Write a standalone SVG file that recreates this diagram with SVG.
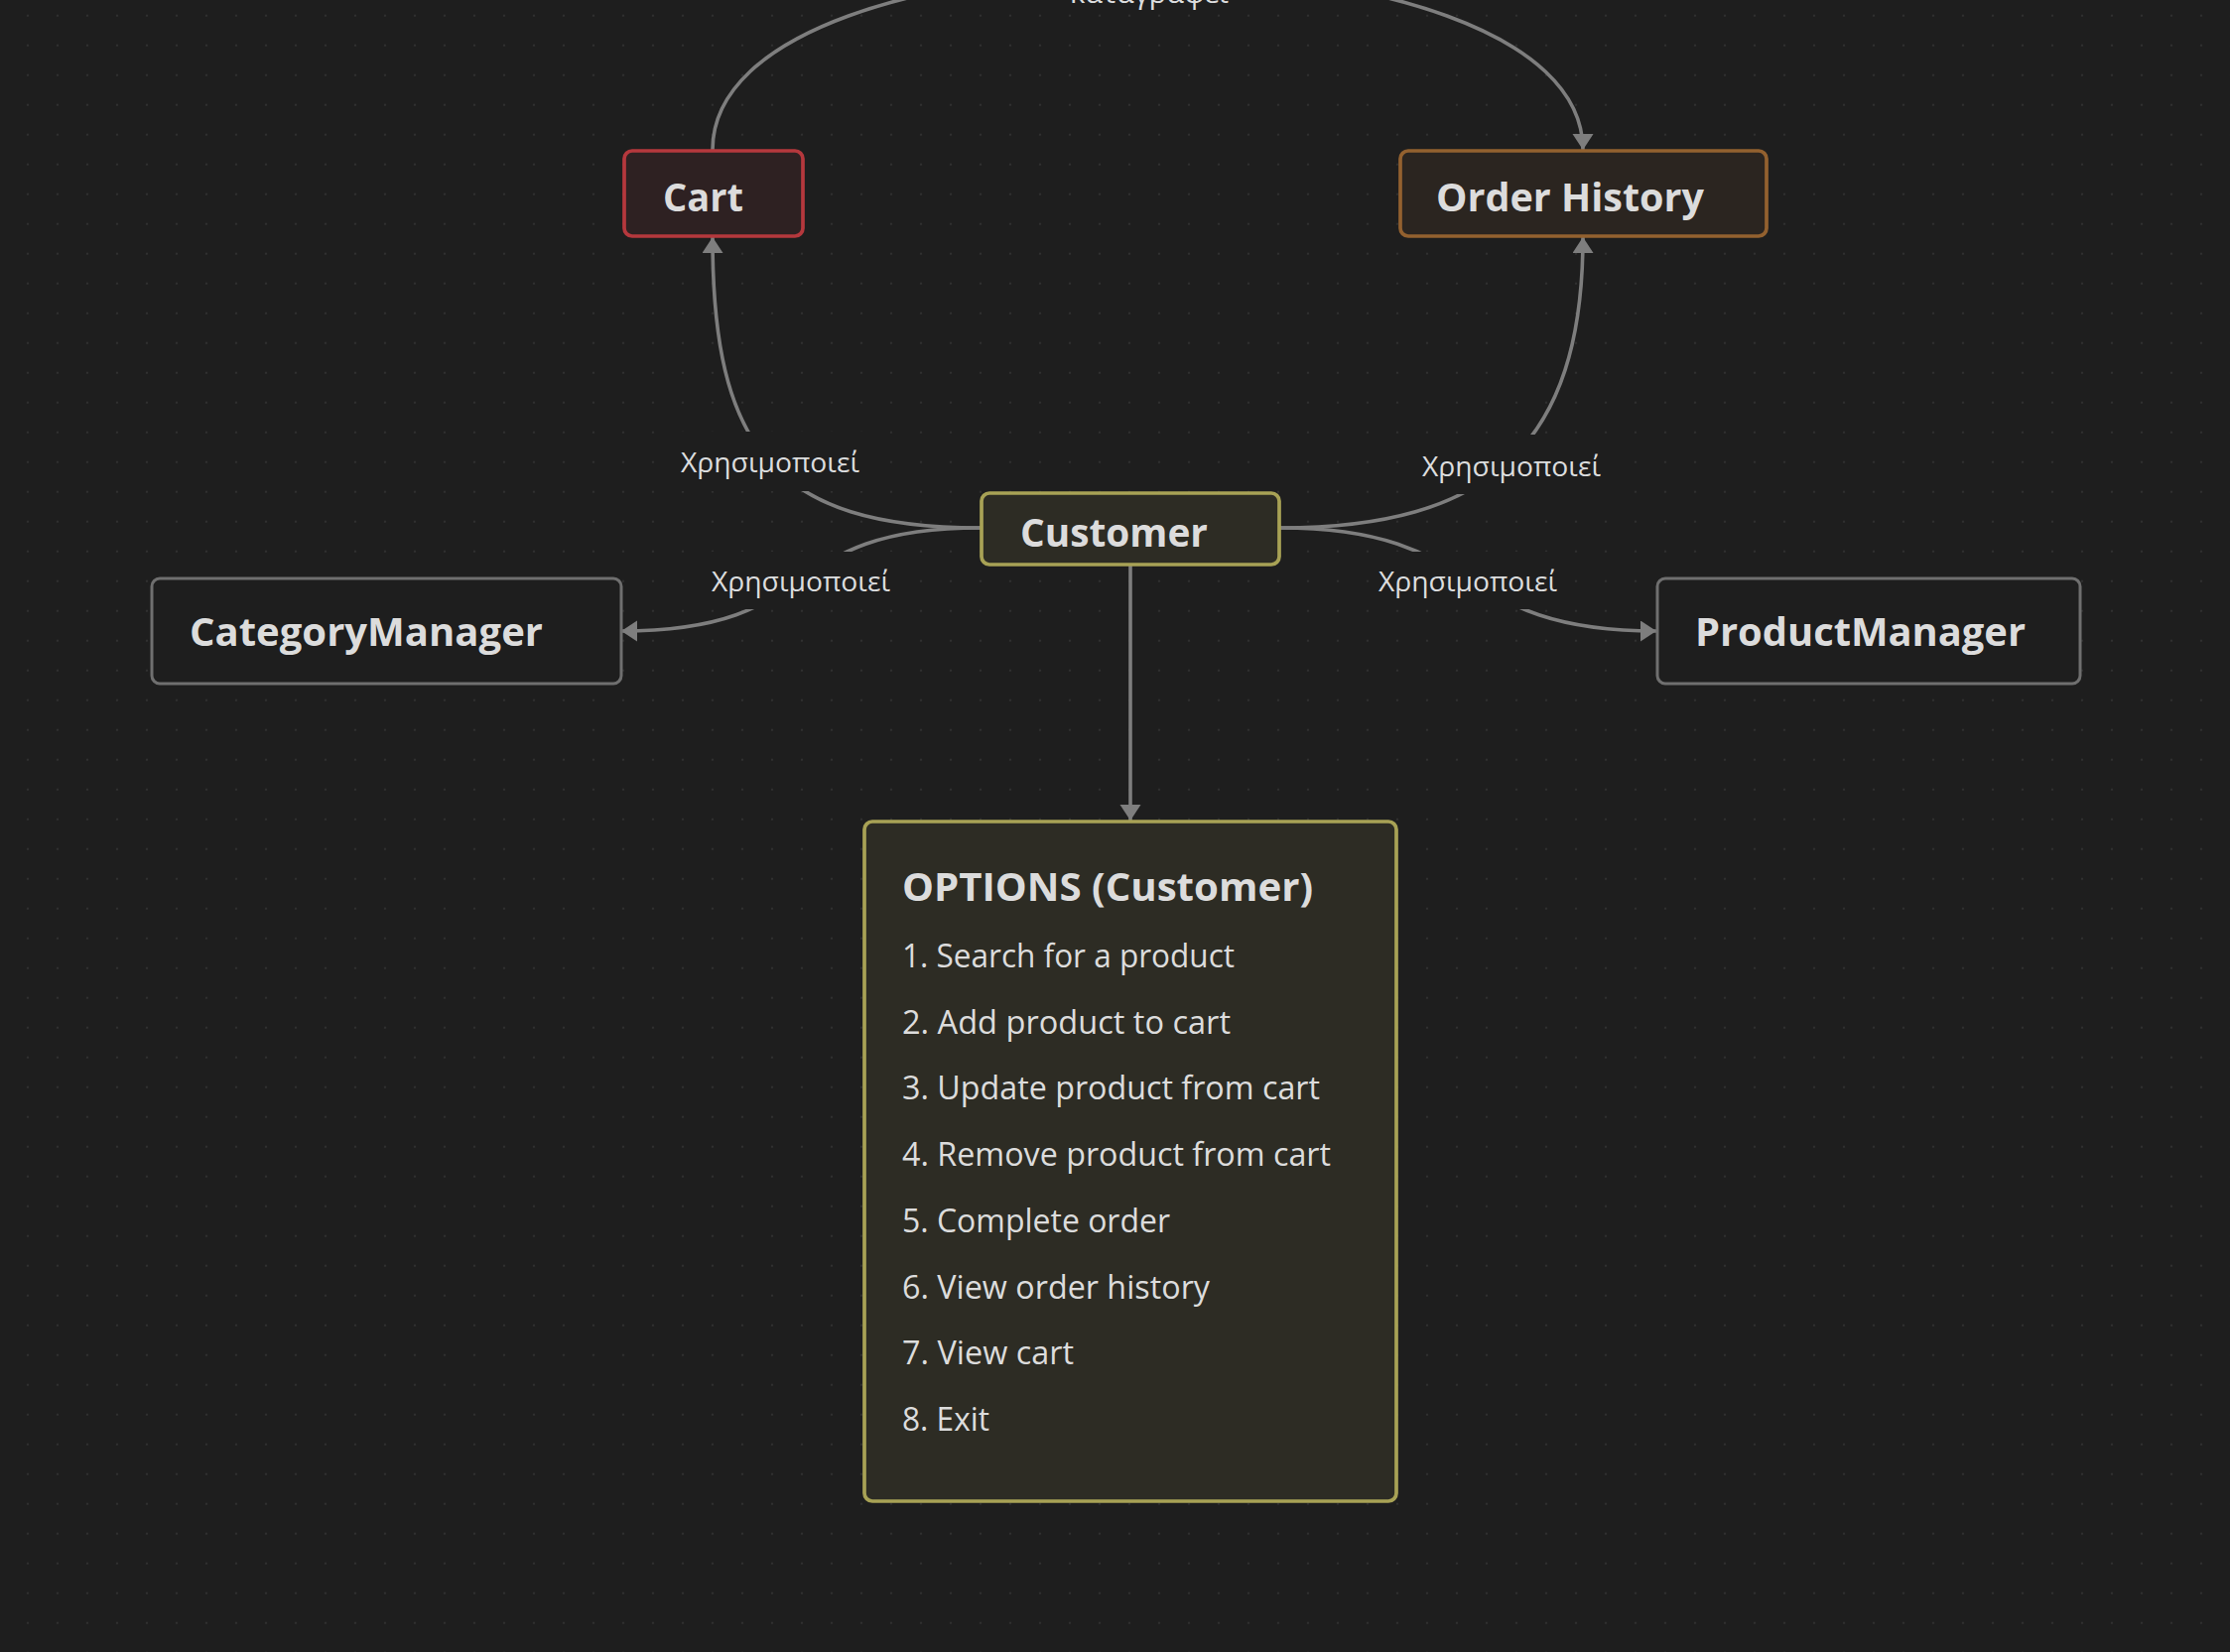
<svg xmlns="http://www.w3.org/2000/svg" width="2247" height="1665" viewBox="0 0 2247 1665">
  <defs>
    <pattern id="dots" patternUnits="userSpaceOnUse" x="13" y="0.7" width="30" height="30">
      <circle cx="15" cy="15" r="1.1" fill="#343434"/>
    </pattern>
    <marker id="arrow" markerUnits="userSpaceOnUse" markerWidth="18" markerHeight="22" refX="16" refY="10.5" orient="auto">
      <path d="M0,0 L16,10.5 L0,21 Z" fill="#7e7e7e"/>
    </marker>
    <style>
      .edge { fill: none; stroke: #7e7e7e; stroke-width: 3.6; }
      .lblbg { fill: #1e1e1e; }
      .lbl { font-family: "Open Sans", "Liberation Sans", sans-serif; font-size: 28px; fill: #dcddde; text-anchor: middle; }
      .ntext { font-family: "Open Sans", "Liberation Sans", sans-serif; font-size: 40px; font-weight: bold; fill: #dcdcdc; }
      .otitle { font-family: "Open Sans", "Liberation Sans", sans-serif; font-size: 40px; font-weight: bold; fill: #dcdcdc; }
      .oitem { font-family: "Open Sans", "Liberation Sans", sans-serif; font-size: 32px; font-weight: 500; fill: #dcdcdc; }
    </style>
  </defs>

  <rect x="0" y="0" width="2247" height="1665" fill="#1e1e1e"/>
  <rect x="0" y="0" width="2247" height="1665" fill="url(#dots)"/>

  <g id="connectors">
    <path class="edge" d="M718,151 C718,-89 1595,-89 1595,151" marker-end="url(#arrow)"/>
    <path class="edge" d="M988,532 C778,532 718,449 718,239" marker-end="url(#arrow)"/>
    <path class="edge" d="M1290,532 C1500,532 1595,449 1595,239" marker-end="url(#arrow)"/>
    <path class="edge" d="M988,532 C778,532 836,636 626,636" marker-end="url(#arrow)"/>
    <path class="edge" d="M1290,532 C1500,532 1459,636 1669,636" marker-end="url(#arrow)"/>
    <path class="edge" d="M1139,569 L1139,827" marker-end="url(#arrow)"/>

    <rect class="lblbg" x="676" y="435" width="198" height="60"/>
    <rect class="lblbg" x="1423" y="438" width="198" height="60"/>
    <rect class="lblbg" x="708" y="556" width="198" height="58"/>
    <rect class="lblbg" x="1380" y="556" width="198" height="58"/>

    <text class="lbl" x="1158" y="3" textLength="160" lengthAdjust="spacingAndGlyphs">καταγράφει</text>
    <text class="lbl" x="776" y="476" textLength="180" lengthAdjust="spacingAndGlyphs">Χρησιμοποιεί</text>
    <text class="lbl" x="1523" y="480" textLength="180" lengthAdjust="spacingAndGlyphs">Χρησιμοποιεί</text>
    <text class="lbl" x="807" y="596" textLength="180" lengthAdjust="spacingAndGlyphs">Χρησιμοποιεί</text>
    <text class="lbl" x="1479" y="596" textLength="180" lengthAdjust="spacingAndGlyphs">Χρησιμοποιεί</text>
  </g>

  <g id="cart">
    <rect x="629" y="152" width="180" height="86" rx="8" fill="#2e2122" stroke="#b5383d" stroke-width="3.7"/>
    <text class="ntext" x="668" y="213" textLength="81" lengthAdjust="spacingAndGlyphs">Cart</text>
  </g>

  <g id="order-history">
    <rect x="1411" y="152" width="369" height="86" rx="8" fill="#2b2520" stroke="#93612f" stroke-width="3.7"/>
    <text class="ntext" x="1447" y="213" textLength="270" lengthAdjust="spacingAndGlyphs">Order History</text>
  </g>

  <g id="customer">
    <rect x="989" y="497" width="300" height="72" rx="8" fill="#2d2c24" stroke="#a8a255" stroke-width="3.7"/>
    <text class="ntext" x="1028" y="551" textLength="189" lengthAdjust="spacingAndGlyphs">Customer</text>
  </g>

  <g id="category-manager">
    <rect x="153" y="583" width="473" height="106" rx="8" fill="#1e1e1e" stroke="#6f6f6f" stroke-width="3"/>
    <text class="ntext" x="191" y="651" textLength="356" lengthAdjust="spacingAndGlyphs">CategoryManager</text>
  </g>

  <g id="product-manager">
    <rect x="1670" y="583" width="426" height="106" rx="8" fill="#1e1e1e" stroke="#6f6f6f" stroke-width="3"/>
    <text class="ntext" x="1708" y="651" textLength="333" lengthAdjust="spacingAndGlyphs">ProductManager</text>
  </g>

  <g id="options">
    <rect x="871" y="828" width="536" height="685" rx="8" fill="#2d2c24" stroke="#a8a255" stroke-width="3.7"/>
    <text class="otitle" x="909" y="908" textLength="414" lengthAdjust="spacingAndGlyphs">OPTIONS (Customer)</text>
    <text class="oitem" x="909" y="975" textLength="335" lengthAdjust="spacingAndGlyphs">1. Search for a product</text>
    <text class="oitem" x="909" y="1042" textLength="331" lengthAdjust="spacingAndGlyphs">2. Add product to cart</text>
    <text class="oitem" x="909" y="1108" textLength="421" lengthAdjust="spacingAndGlyphs">3. Update product from cart</text>
    <text class="oitem" x="909" y="1175" textLength="432" lengthAdjust="spacingAndGlyphs">4. Remove product from cart</text>
    <text class="oitem" x="909" y="1242" textLength="270" lengthAdjust="spacingAndGlyphs">5. Complete order</text>
    <text class="oitem" x="909" y="1309" textLength="310" lengthAdjust="spacingAndGlyphs">6. View order history</text>
    <text class="oitem" x="909" y="1375" textLength="173" lengthAdjust="spacingAndGlyphs">7. View cart</text>
    <text class="oitem" x="909" y="1442" textLength="88" lengthAdjust="spacingAndGlyphs">8. Exit</text>
  </g>
</svg>
